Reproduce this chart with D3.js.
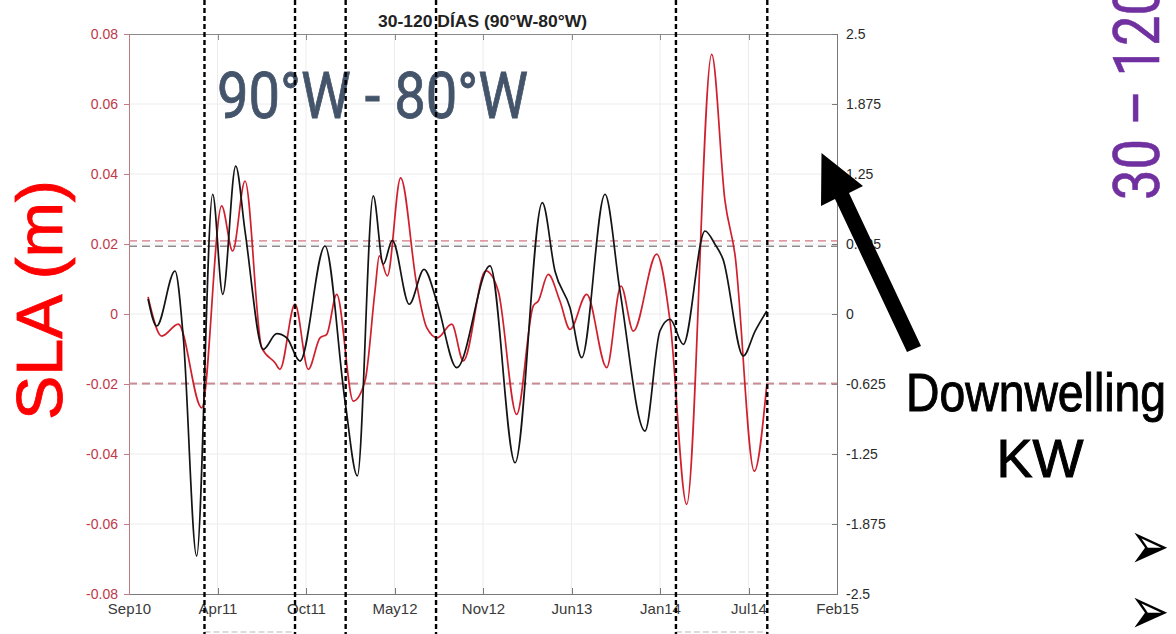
<!DOCTYPE html>
<html>
<head>
<meta charset="utf-8">
<script src="https://cdn.jsdelivr.net/npm/d3@7"></script>
<style>
  body { margin: 0; background: #fff; }
  .axis text { font-family: "Liberation Sans", Arial, sans-serif; font-size: 14px; }
  .axis path, .axis line { shape-rendering: crispEdges; }
</style>
</head>
<body>
<div id="chart"></div>
<script>
// time is in decimal years, SLA in metres, index in right-axis units
const xDomain = [2010.667, 2015.085];
const tickLabels = ["Sep10", "Apr11", "Oct11", "May12", "Nov12", "Jun13", "Jan14", "Jul14", "Feb15"];
const leftTicks = [0.08, 0.06, 0.04, 0.02, 0, -0.02, -0.04, -0.06, -0.08];
const rightTicks = [2.5, 1.875, 1.25, 0.625, 0, -0.625, -1.25, -1.875, -2.5];

const slaTime = [2010.786, 2010.871, 2010.975, 2011.121, 2011.245, 2011.314, 2011.391, 2011.495, 2011.578, 2011.609,
  2011.703, 2011.786, 2011.859, 2011.901, 2011.963, 2012.067, 2012.140, 2012.202, 2012.229, 2012.279,
  2012.362, 2012.462, 2012.525, 2012.591, 2012.681, 2012.753, 2012.893, 2012.971, 2013.086, 2013.190,
  2013.221, 2013.283, 2013.356, 2013.419, 2013.523, 2013.648, 2013.737, 2013.814, 2013.960, 2014.043,
  2014.147, 2014.303, 2014.386, 2014.448, 2014.569, 2014.647];
const slaValue = [0.0049, -0.0063, -0.0029, -0.0268, 0.0309, 0.0180, 0.0380, -0.0096, -0.0139, -0.0158,
  0.0028, -0.0158, -0.0068, -0.0058, 0.0056, -0.0249, -0.0191, 0.0066, 0.0166, 0.0109,
  0.0389, 0.0085, -0.0039, -0.0068, -0.0029, -0.0134, 0.0123, 0.0066, -0.0287, 0.0023,
  0.0037, 0.0113, 0.0037, -0.0044, 0.0056, -0.0153, 0.0080, -0.0049, 0.0171, -0.0020,
  -0.0544, 0.0742, 0.0323, 0.0171, -0.0449, -0.0201];

const idxTime = [2010.786, 2010.840, 2010.954, 2011.006, 2011.089, 2011.189, 2011.252, 2011.333, 2011.391, 2011.505,
  2011.589, 2011.651, 2011.734, 2011.890, 2012.015, 2012.092, 2012.191, 2012.254, 2012.310, 2012.416,
  2012.508, 2012.587, 2012.712, 2012.920, 2013.076, 2013.246, 2013.325, 2013.419, 2013.492, 2013.637,
  2013.731, 2013.887, 2013.980, 2014.043, 2014.126, 2014.261, 2014.324, 2014.374, 2014.500, 2014.574,
  2014.647];
const idxValue = [0.134, -0.107, 0.384, -0.212, -2.161, 1.069, 0.176, 1.321, 0.741, -0.315,
  -0.176, -0.212, -0.420, 0.607, -0.777, -1.446, 1.054, 0.444, 0.658, 0.087,
  0.399, 0.116, -0.479, 0.429, -1.328, 0.994, 0.384, 0.056, -0.390, 1.069,
  0.205, -1.045, -0.152, -0.047, -0.271, 0.741, 0.622, 0.488, -0.375, -0.152,
  0.027];

const slaThresh = [0.0209, -0.0199];
const idxThresh = [0.605, -0.62];
const kwMarks = [2011.138, 2011.703, 2012.019, 2012.583, 2014.080, 2014.650];

const width = 1176;
const height = 634;
const margin = {top: 34, left: 129, right: 339, bottom: 40};

const svg = d3.select("#chart")
    .append("svg")
    .attr("width", width)
    .attr("height", height)
    .style("display", "block");

const xScale = d3.scaleLinear()
    .domain(xDomain)
    .range([margin.left, width - margin.right]);
const yLeft = d3.scaleLinear()
    .domain([-0.08, 0.08])
    .range([height - margin.bottom, margin.top]);
const yRight = d3.scaleLinear()
    .domain([-2.5, 2.5])
    .range([height - margin.bottom, margin.top]);

const xTicks = d3.range(tickLabels.length).map(function(i) {
    return xDomain[0] + i * (xDomain[1] - xDomain[0]) / (tickLabels.length - 1);
});

// grid
svg.append("g").selectAll("line")
    .data(xTicks.slice(1, -1))
    .enter().append("line")
    .attr("x1", function(d) { return xScale(d); })
    .attr("x2", function(d) { return xScale(d); })
    .attr("y1", margin.top)
    .attr("y2", height - margin.bottom)
    .attr("stroke", "#ececec");
svg.append("g").selectAll("line")
    .data(leftTicks.slice(1, -1))
    .enter().append("line")
    .attr("x1", margin.left)
    .attr("x2", width - margin.right)
    .attr("y1", function(d) { return yLeft(d); })
    .attr("y2", function(d) { return yLeft(d); })
    .attr("stroke", "#ececec");

// top frame line with inward ticks
svg.append("g")
    .attr("class", "axis")
    .attr("transform", `translate(0,${margin.top})`)
    .call(d3.axisTop(xScale).tickValues(xTicks).tickSize(-6).tickFormat(""))
    .call(function(g) {
        g.selectAll("path, line").attr("stroke", "#8a8a8a");
    });

const xAxis = svg.append("g")
    .attr("class", "axis")
    .attr("transform", `translate(0,${height - margin.bottom})`)
    .call(d3.axisBottom(xScale).tickValues(xTicks).tickSize(-6).tickPadding(8)
        .tickFormat(function(d, i) { return tickLabels[i]; }));
xAxis.selectAll("path, line").attr("stroke", "#7a7a7a");
xAxis.selectAll("text").attr("fill", "#3a3a3a").attr("dy", "0.8em").style("font-size", "15px");

const leftAxis = svg.append("g")
    .attr("class", "axis")
    .attr("transform", `translate(${margin.left},0)`)
    .call(d3.axisLeft(yLeft).tickValues(leftTicks).tickSize(5).tickPadding(6)
        .tickFormat(function(d) { return d === 0 ? "0" : d.toFixed(2); }));
leftAxis.selectAll("path, line").attr("stroke", "#c27a84");
leftAxis.selectAll("text").attr("fill", "#c0394a");

const rightAxis = svg.append("g")
    .attr("class", "axis")
    .attr("transform", `translate(${width - margin.right},0)`)
    .call(d3.axisRight(yRight).tickValues(rightTicks).tickSize(-5).tickPadding(9)
        .tickFormat(function(d) { return String(d); }));
rightAxis.selectAll("path, line").attr("stroke", "#7a7a7a");
rightAxis.selectAll("text").attr("fill", "#2a2a2a");

// threshold dashed lines
svg.append("g").selectAll("line")
    .data(idxThresh)
    .enter().append("line")
    .attr("x1", margin.left)
    .attr("x2", width - margin.right)
    .attr("y1", function(d) { return yRight(d); })
    .attr("y2", function(d) { return yRight(d); })
    .attr("stroke", "#8c8a8c")
    .attr("stroke-width", 1.6)
    .attr("stroke-dasharray", "8,5");
svg.append("g").selectAll("line")
    .data(slaThresh)
    .enter().append("line")
    .attr("x1", margin.left)
    .attr("x2", width - margin.right)
    .attr("y1", function(d) { return yLeft(d); })
    .attr("y2", function(d) { return yLeft(d); })
    .attr("stroke", "#d98a94")
    .attr("stroke-width", 1.6)
    .attr("stroke-opacity", 0.85)
    .attr("stroke-dasharray", "8,5");

// series
const slaLine = d3.line()
    .x(function(d, i) { return xScale(slaTime[i]); })
    .y(function(d) { return yLeft(d); })
    .curve(d3.curveMonotoneX);
const idxLine = d3.line()
    .x(function(d, i) { return xScale(idxTime[i]); })
    .y(function(d) { return yRight(d); })
    .curve(d3.curveMonotoneX);

svg.append("path")
    .datum(slaValue)
    .attr("d", slaLine)
    .attr("fill", "none")
    .attr("stroke", "#d0202e")
    .attr("stroke-width", 1.7);
svg.append("path")
    .datum(idxValue)
    .attr("d", idxLine)
    .attr("fill", "none")
    .attr("stroke", "#141414")
    .attr("stroke-width", 1.7);

// title
svg.append("text")
    .attr("x", 378)
    .attr("y", 27)
    .attr("textLength", 209)
    .attr("lengthAdjust", "spacingAndGlyphs")
    .style("font-family", "Liberation Sans, Arial, sans-serif")
    .style("font-size", "16px")
    .style("font-weight", "bold")
    .attr("fill", "#222")
    .text("30-120 DÍAS (90°W-80°W)");

// slide annotations
svg.append("text")
    .attr("x", 217)
    .attr("y", 118)
    .attr("textLength", 311)
    .attr("lengthAdjust", "spacingAndGlyphs")
    .style("font-family", "Roboto, sans-serif")
    .style("font-size", "64px")
    .attr("fill", "#44546a")
    .attr("stroke", "#44546a")
    .attr("stroke-width", 0.8)
    .text("90°W - 80°W");

svg.append("text")
    .attr("transform", "translate(62,420) rotate(-90)")
    .attr("textLength", 240)
    .attr("lengthAdjust", "spacingAndGlyphs")
    .style("font-family", "Liberation Sans, Arial, sans-serif")
    .style("font-size", "64px")
    .attr("fill", "#ff0000")
    .attr("stroke", "#ff0000")
    .attr("stroke-width", 0.8)
    .text("SLA (m)");

svg.append("text")
    .attr("transform", "translate(1159,200) rotate(-90)")
    .attr("textLength", 215)
    .attr("lengthAdjust", "spacingAndGlyphs")
    .style("font-family", "Roboto, sans-serif")
    .style("font-size", "64px")
    .attr("fill", "#7030a0")
    .attr("stroke", "#7030a0")
    .attr("stroke-width", 0.6)
    .text("30 – 120");

svg.append("text")
    .attr("x", 906)
    .attr("y", 411)
    .attr("textLength", 260)
    .attr("lengthAdjust", "spacingAndGlyphs")
    .style("font-family", "Liberation Sans, Arial, sans-serif")
    .style("font-size", "54px")
    .attr("fill", "#000")
    .attr("stroke", "#000")
    .attr("stroke-width", 1)
    .text("Downwelling");
svg.append("text")
    .attr("x", 1040)
    .attr("y", 477)
    .attr("text-anchor", "middle")
    .style("font-family", "Liberation Sans, Arial, sans-serif")
    .style("font-size", "54px")
    .attr("fill", "#000")
    .attr("stroke", "#000")
    .attr("stroke-width", 1)
    .text("KW");

svg.append("polygon")
    .attr("points", "907,352 921,346 849,193 863,186 821.5,153 821,206 835,199")
    .attr("fill", "#000");

svg.selectAll(".bullet")
    .data([545, 610])
    .enter().append("g")
    .attr("class", "bullet")
    .attr("transform", function(d) { return `translate(1129,${d}) scale(0.78,1.1)`; })
    .append("text")
    .attr("dy", "0.35em")
    .style("font-family", "DejaVu Sans, sans-serif")
    .style("font-size", "62px")
    .attr("fill", "#000")
    .text("➢");

// Kelvin wave window marks
svg.append("g").selectAll("line")
    .data([[kwMarks[0], kwMarks[1]], [kwMarks[4], kwMarks[5]]])
    .enter().append("line")
    .attr("x1", function(d) { return xScale(d[0]); })
    .attr("x2", function(d) { return xScale(d[1]); })
    .attr("y1", 632)
    .attr("y2", 632)
    .attr("stroke", "#cfcfcf")
    .attr("stroke-width", 1.5)
    .attr("stroke-dasharray", "6,3");
svg.append("g").selectAll("line")
    .data(kwMarks)
    .enter().append("line")
    .attr("x1", function(d) { return xScale(d); })
    .attr("x2", function(d) { return xScale(d); })
    .attr("y1", 0)
    .attr("y2", height)
    .attr("stroke", "#000")
    .attr("stroke-width", 2.4)
    .attr("stroke-dasharray", "5,3");
</script>
</body>
</html>
